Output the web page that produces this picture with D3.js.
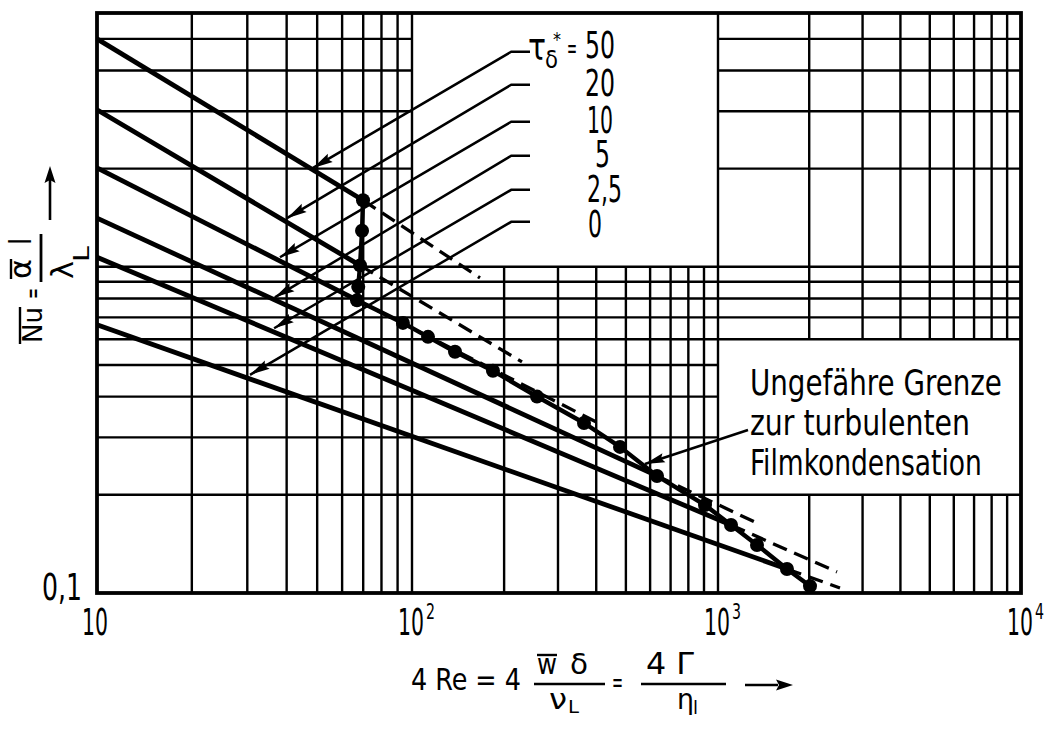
<!DOCTYPE html>
<html><head><meta charset="utf-8">
<script src="https://cdn.jsdelivr.net/npm/d3@7"></script>
<style>
body{margin:0;background:#fff;}
svg text{font-family:"DejaVu Sans Condensed","DejaVu Sans",sans-serif;fill:#000;}
</style></head><body>
<svg id="c" width="1047" height="729"></svg>
<script>
// ---------- data ----------
const tauLabels = ["50", "20", "10", "5", "2,5", "0"];
// solid laminar lines for each tau (4Re, Nu)
const line50  = [[10, 5.0], [69.9, 1.60]];
const line20  = [[10, 3.03], [68.4, 1.01]];
const line10  = [[10, 2.01], [66.9, 0.79]];
const line5   = [[10, 1.41], [632, 0.2285]];
const line2_5 = [[10, 1.07], [1104, 0.1616]];
const line0   = [[10, 0.664], [1689, 0.1185]];
// dashed continuations
const dash50  = [[69.9, 1.60], [166.8, 0.925]];
const dash20  = [[68.4, 1.01], [228.8, 0.511]];
const dash10  = [[66.9, 0.79], [417.8, 0.3275]];
const dash5   = [[632, 0.2285], [1324, 0.165]];
const dash2_5 = [[1104, 0.1616], [2470, 0.116]];
const dash0   = [[1689, 0.1185], [2527, 0.1036]];
// approximate boundary to turbulent film condensation (points)
const boundary = [[69.9, 1.60], [69.4, 1.29], [68.4, 1.01], [67.5, 0.868], [66.9, 0.79],
  [93.6, 0.673], [112.8, 0.61], [138.2, 0.549], [183.9, 0.48], [256.2, 0.40],
  [364.8, 0.332], [478.4, 0.2805], [632, 0.2285], [907, 0.186], [1104, 0.1616],
  [1345, 0.1404], [1689, 0.1185], [2012, 0.105]];
// legend leader lines: label level (Nu) and arrow tip on line
const leaderLevel = [4.565, 3.616, 2.785, 2.19, 1.722, 1.374];
const leaderTip = [[48.5, 2.01], [40.1, 1.41], [38.1, 1.07], [36.7, 0.806], [36.5, 0.648], [30.6, 0.4665]];
const leaderX = [211, 243];
// text box leader
const boxLeader = [[1256, 0.316], [577, 0.2487]];
// axis ticks
const xDecades = [10, 100, 1000];
const xTickValues = [10, 100, 1000, 10000];
const xTickLabels = ["10", "10", "10", "10"];
const xTickPowers = ["", "2", "3", "4"];
const yTickLabel = "0,1";
const yGrid = [0.2, 0.3, 0.4, 0.5, 0.6, 0.7, 0.8, 0.9, 1, 2, 3, 4, 5];
const blankBoxes = [{x0: 100, x1: 1000, y0: 1, y1: 6}, {x0: 1000, x1: 10000, y0: 0.2, y1: 0.6}];
const noteLines = ["Ungefähre Grenze", "zur turbulenten", "Filmkondensation"];

// ---------- scales ----------
const svg = d3.select("#c");
const x = d3.scaleLog().domain([10, 100, 1000, 10000]).range([97, 412, 718, 1021]);
const y = d3.scaleLog().domain([0.1, 6]).range([593, 13]);

// text helper: place text at (x0, baseline) and squeeze to a target width
function fitText(parent, str, x0, yb, size, width) {
  const t = parent.append("text").attr("font-size", size).text(str);
  const w = t.node().getComputedTextLength();
  const s = width ? width / w : 1;
  t.attr("transform", `translate(${x0},${yb}) scale(${s},1)`);
  return t;
}

// ---------- grid ----------
const xGrid = [];
xDecades.forEach(d => d3.range(2, 10).forEach(m => xGrid.push(+(m * d).toPrecision(3))));
xGrid.push(100, 1000);
const g = svg.append("g").attr("stroke", "#000").attr("stroke-width", 2.4);
function cut(segs, a0, a1) {
  return segs.flatMap(([a, c]) => {
    if (a1 <= a || a0 >= c) return [[a, c]];
    const out = [];
    if (a0 > a) out.push([a, a0]);
    if (a1 < c) out.push([a1, c]);
    return out;
  });
}
xGrid.forEach(v => {
  let segs = [[0.1, 6]];
  if (v !== 100 && v !== 1000)
    blankBoxes.forEach(b => { if (v > b.x0 && v < b.x1) segs = cut(segs, b.y0, b.y1); });
  segs.forEach(([a, c]) => g.append("line").attr("x1", x(v)).attr("x2", x(v)).attr("y1", y(a)).attr("y2", y(c)));
});
yGrid.forEach(v => {
  let segs = [[10, 10000]];
  blankBoxes.forEach(b => { if (v > b.y0 && v < b.y1) segs = cut(segs, b.x0, b.x1); });
  segs.forEach(([a, c]) => g.append("line").attr("y1", y(v)).attr("y2", y(v)).attr("x1", x(a)).attr("x2", x(c)));
});
svg.append("rect").attr("x", x(10)).attr("y", y(6)).attr("width", x(10000) - x(10)).attr("height", y(0.1) - y(6))
  .attr("fill", "none").attr("stroke", "#000").attr("stroke-width", 3.8);

// ---------- curves ----------
const line = d3.line().x(d => x(d[0])).y(d => y(d[1]));
[line50, line20, line10, line5, line2_5, line0].forEach(s =>
  svg.append("path").attr("d", line(s)).attr("fill", "none").attr("stroke", "#000").attr("stroke-width", 4.8).attr("stroke-linejoin", "round"));
[dash50, dash20, dash10, dash5, dash2_5, dash0].forEach(s =>
  svg.append("path").attr("d", line(s)).attr("fill", "none").attr("stroke", "#000").attr("stroke-width", 3.3).attr("stroke-dasharray", "15,8"));
svg.append("path").attr("d", line(boundary)).attr("fill", "none").attr("stroke", "#000").attr("stroke-width", 4.4).attr("stroke-linejoin", "round");
svg.selectAll("circle.dot").data(boundary).join("circle").attr("class", "dot")
  .attr("cx", d => x(d[0])).attr("cy", d => y(d[1])).attr("r", 7).attr("fill", "#000");

// ---------- arrows ----------
function arrowHead(p0, p1, len, hw) {
  const dx = p1[0] - p0[0], dy = p1[1] - p0[1], L = Math.hypot(dx, dy);
  const ux = dx / L, uy = dy / L;
  const bx = p1[0] - ux * len, by = p1[1] - uy * len;
  svg.append("path").attr("d", `M${p1[0]},${p1[1]}L${bx - uy * hw},${by + ux * hw}L${bx + ux * 3},${by + uy * 3}L${bx + uy * hw},${by - ux * hw}Z`)
    .attr("fill", "#000");
}
leaderLevel.forEach((lv, i) => {
  const pts = [[leaderX[1], lv], [leaderX[0], lv], leaderTip[i]].map(d => [x(d[0]), y(d[1])]);
  svg.append("path").attr("d", d3.line()(pts)).attr("fill", "none").attr("stroke", "#000").attr("stroke-width", 2.5);
  arrowHead(pts[1], pts[2], 20, 4.8);
});
{
  const pts = boxLeader.map(d => [x(d[0]), y(d[1])]);
  svg.append("path").attr("d", d3.line()(pts)).attr("stroke", "#000").attr("stroke-width", 2.5);
  arrowHead(pts[0], pts[1], 20, 4.8);
}

// ---------- legend text ----------
const lg = svg.append("g");
fitText(lg, "τ", 528, 60, 38, 18);
fitText(lg, "δ", 545, 68, 24, 13);
fitText(lg, "*", 553, 46, 20, 8);
fitText(lg, "=", 567, 58, 28, 10);
const labelY = [58, 96, 133, 167, 202, 237];
const labelX = [585, 585, 587, 595, 587, 588];
const labelW = [30, 30, 26, 15, 35, 14];
tauLabels.forEach((t, i) => fitText(lg, t, labelX[i], labelY[i], 38, labelW[i]));

// text box
const tb = svg.append("g");
const noteW = [252, 220, 232];
noteLines.forEach((t, i) => fitText(tb, t, 750, 395 + i * 40, 36, noteW[i]));

// ---------- tick labels ----------
const tickX0 = [82, 398, 704, 1007];
xTickValues.forEach((v, i) => {
  fitText(svg, xTickLabels[i], tickX0[i], 635, 37, 26);
  if (xTickPowers[i]) fitText(svg, xTickPowers[i], tickX0[i] + 28, 619, 22, 9);
});
fitText(svg, yTickLabel, 42, 600, 37, 40);

// ---------- y axis title (rotated) ----------
const yt = svg.append("g").attr("transform", "rotate(-90)");
fitText(yt, "Nu", -343, 42, 27, 36);
yt.append("line").attr("x1", -344).attr("x2", -307).attr("y1", 20).attr("y2", 20).attr("stroke", "#000").attr("stroke-width", 2.4);
fitText(yt, "=", -299, 42, 27, 11);
fitText(yt, "α", -279, 31, 30, 20);
yt.append("line").attr("x1", -279).attr("x2", -259).attr("y1", 11).attr("y2", 11).attr("stroke", "#000").attr("stroke-width", 2.4);
fitText(yt, "l", -245, 31, 30, 7);
yt.append("line").attr("x1", -282).attr("x2", -234).attr("y1", 41).attr("y2", 41).attr("stroke", "#000").attr("stroke-width", 2.8);
fitText(yt, "λ", -279, 73, 31, 18);
fitText(yt, "L", -262, 89, 22, 16);
yt.append("line").attr("x1", -220).attr("x2", -178).attr("y1", 50).attr("y2", 50).attr("stroke", "#000").attr("stroke-width", 2.6);
yt.append("path").attr("d", "M-166,50L-183,44.5L-180,50L-183,55.5Z").attr("fill", "#000");

// ---------- x axis title ----------
const xt = svg.append("g");
fitText(xt, "4 Re = 4", 411, 690, 31, 110);
fitText(xt, "w", 537, 674, 28, 20);
xt.append("line").attr("x1", 537).attr("x2", 557).attr("y1", 655).attr("y2", 655).attr("stroke", "#000").attr("stroke-width", 2.4);
fitText(xt, "δ", 570, 674, 28, 18);
xt.append("line").attr("x1", 534).attr("x2", 605).attr("y1", 684).attr("y2", 684).attr("stroke", "#000").attr("stroke-width", 2.6);
fitText(xt, "ν", 549, 709, 28, 18);
fitText(xt, "L", 568, 713, 18, 11);
fitText(xt, "=", 612, 692, 28, 11);
fitText(xt, "4 Γ", 646, 674, 31, 48);
xt.append("line").attr("x1", 641).attr("x2", 726).attr("y1", 684).attr("y2", 684).attr("stroke", "#000").attr("stroke-width", 2.6);
fitText(xt, "η", 677, 709, 28, 17);
fitText(xt, "l", 693, 714, 18, 5);
xt.append("line").attr("x1", 745).attr("x2", 778).attr("y1", 685).attr("y2", 685).attr("stroke", "#000").attr("stroke-width", 2.6);
xt.append("path").attr("d", "M793,685L776,679.5L779,685L776,690.5Z").attr("fill", "#000");
</script></body></html>
